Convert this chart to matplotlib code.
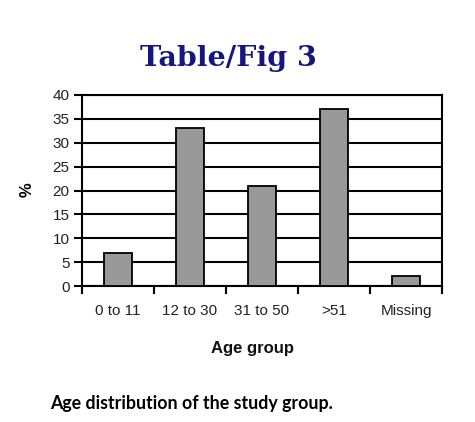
import matplotlib
matplotlib.use("Agg")
import matplotlib.pyplot as plt
import numpy as np

categories = ["0 to 11", "12 to 30", "31 to 50", ">51", "Missing"]
percent = [7, 33, 21, 37, 2]
yticks = [0, 5, 10, 15, 20, 25, 30, 35, 40]

fig = plt.figure(figsize=(4.75, 4.22), dpi=100)
ax = fig.add_axes([82/475, 1-286/422, (442-82)/475, (286-95)/422])

x = np.arange(len(categories))
ax.bar(x, percent, width=0.4, color="#999999", edgecolor="black", linewidth=1.3, zorder=3)
ax.set_xlim(-0.5, len(categories) - 0.5)
ax.set_ylim(0, 40)
ax.set_yticks(yticks)
ax.set_yticklabels([str(v) for v in yticks], fontsize=11, family="Liberation Sans", color="#222222")
for y in yticks:
    ax.axhline(y, color="black", linewidth=1.5, zorder=1)
ax.set_xticks(np.arange(-0.5, len(categories)), minor=False)
ax.set_xticklabels([])
ax.set_xticks(x, minor=True)
ax.set_xticklabels(categories, minor=True, fontsize=11, family="Liberation Sans", color="#222222")
ax.tick_params(axis="x", which="minor", length=0, pad=13)
ax.tick_params(axis="x", which="major", length=6, width=1.5, direction="out")
ax.tick_params(axis="y", length=6, width=1.5, direction="out", pad=3)
for s in ax.spines.values():
    s.set_linewidth(1.5)
    s.set_color("black")

fig.text(27/475, 1-190/422, "%", rotation=90, ha="center", va="center",
         fontsize=12, family="Liberation Sans", fontweight="bold")
fig.text(252/475, 1-348/422, "Age group", ha="center", va="center",
         fontsize=12, family="Liberation Sans", fontweight="bold", color="#111111")
fig.text(228/475, 1-58/422, "Table/Fig 3", ha="center", va="center",
         fontsize=20.5, family="DejaVu Serif", fontweight="heavy", color="#161680")
fig.text(50/475, 1-404/422, "Age distribution of the study group.", ha="left", va="center",
         fontsize=12.8, family="Lato", fontweight="bold", color="black")

fig.savefig("out.png", dpi=100)
